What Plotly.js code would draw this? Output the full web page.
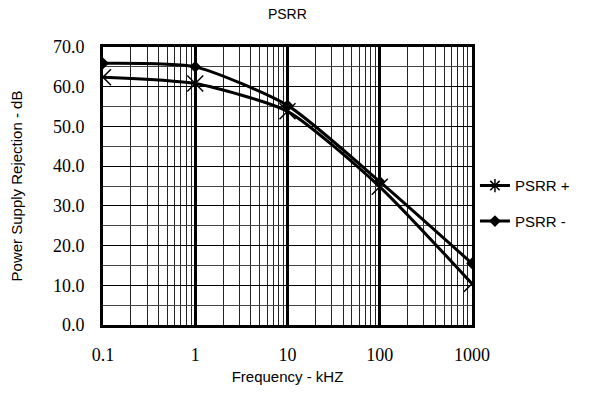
<!DOCTYPE html>
<html>
<head>
<meta charset="utf-8">
<script src="https://cdn.plot.ly/plotly-3.0.1.min.js"></script>
<style>html,body{margin:0;padding:0;background:#fff}#chart{width:605px;height:402px}</style>
</head>
<body>
<div id="chart"></div>
<script>
const freqKHz = [0.1, 1, 10, 100, 1000];
const psrrPlus = [62.4, 60.8, 53.8, 34.8, 10.4];
const psrrMinus = [65.9, 65.0, 55.3, 36.1, 15.5];
const xTickVals = [0.1, 1, 10, 100, 1000];
const xTickText = ['0.1', '1', '10', '100', '1000'];
const yTickVals = [0, 10, 20, 30, 40, 50, 60, 70];
const yTickText = ['0.0', '10.0', '20.0', '30.0', '40.0', '50.0', '60.0', '70.0'];

const sansFont = "Arial, Liberation Sans, sans-serif";
const serifFont = "Times New Roman, Liberation Serif, DejaVu Serif, serif";

const traces = [
  {
    x: freqKHz, y: psrrPlus, name: 'PSRR +', type: 'scatter', mode: 'lines+markers',
    line: {color: '#000', width: 3, shape: 'spline', smoothing: 0.6},
    marker: {symbol: 'x-thin-open', size: 16, color: '#000', line: {color: '#000', width: 1.5}},
    showlegend: false
  },
  {
    x: freqKHz, y: psrrMinus, name: 'PSRR -', type: 'scatter', mode: 'lines+markers',
    line: {color: '#000', width: 3, shape: 'spline', smoothing: 0.6},
    marker: {symbol: 'diamond', size: 9, color: '#000'},
    showlegend: false
  },
  {
    x: [null], y: [null], name: 'PSRR +', type: 'scatter', mode: 'lines+markers',
    line: {color: '#000', width: 3},
    marker: {symbol: 'asterisk-open', size: 11, color: '#000', line: {color: '#000', width: 1.5}},
    legendgroup: 'a'
  },
  {
    x: [null], y: [null], name: 'PSRR -', type: 'scatter', mode: 'lines+markers',
    line: {color: '#000', width: 3},
    marker: {symbol: 'diamond', size: 9, color: '#000'},
    legendgroup: 'b'
  }
];

const layout = {
  width: 605, height: 402,
  margin: {l: 103, r: 133, t: 47, b: 77},
  paper_bgcolor: '#fff', plot_bgcolor: '#fff',
  font: {family: sansFont},
  title: {text: 'PSRR', x: 0.475, xanchor: 'center', y: 0.965, yanchor: 'middle',
          font: {family: sansFont, size: 14, color: '#000'}},
  showlegend: true,
  legend: {x: 1.008, xanchor: 'left', y: 0.56, yanchor: 'top', bgcolor: 'rgba(0,0,0,0)',
           font: {family: sansFont, size: 15, color: '#000'},
           traceorder: 'grouped', tracegroupgap: 13, itemwidth: 30},
  xaxis: {
    type: 'log', range: [-1, 3], tickvals: xTickVals, ticktext: xTickText,
    ticks: 'outside', ticklen: 0, ticklabelstandoff: 11,
    tickfont: {family: serifFont, size: 18, color: '#000'},
    showgrid: true, gridcolor: '#000', gridwidth: 3,
    minor: {showgrid: true, gridcolor: '#222', gridwidth: 1, dtick: 'D1'},
    showline: true, linecolor: '#000', linewidth: 3, mirror: true, zeroline: false,
    title: {text: 'Frequency - kHZ', standoff: 8,
            font: {family: sansFont, size: 15, color: '#000'}}
  },
  yaxis: {
    range: [0, 70], tickvals: yTickVals, ticktext: yTickText,
    ticks: 'outside', ticklen: 0, ticklabelstandoff: 12,
    tickfont: {family: serifFont, size: 18, color: '#000'},
    showgrid: true, gridcolor: '#000', gridwidth: 1,
    minor: {showgrid: true, gridcolor: '#444', gridwidth: 1, dtick: 5},
    showline: true, linecolor: '#000', linewidth: 3, mirror: true, zeroline: false,
    title: {text: 'Power Supply Rejection - dB', standoff: 27,
            font: {family: sansFont, size: 15, color: '#000'}}
  },
  shapes: [
    {type: 'line', xref: 'paper', yref: 'paper', x0: 1.005, x1: 1.005, y0: 0.23, y1: 0.6,
     line: {color: '#000', width: 2}}
  ]
};

Plotly.newPlot('chart', traces, layout, {displayModeBar: false, staticPlot: true});
</script>
</body>
</html>
